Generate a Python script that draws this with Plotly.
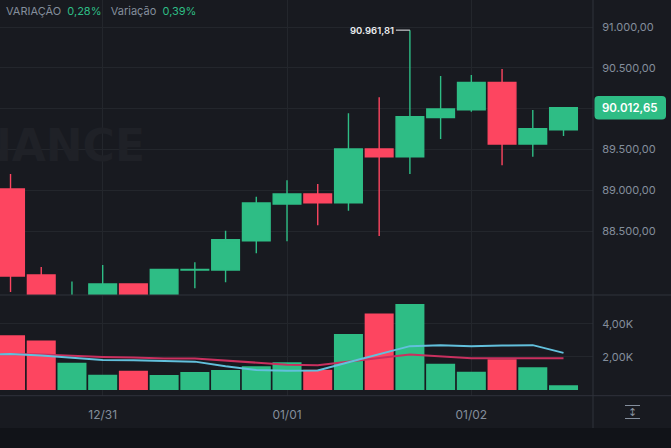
import pandas as pd
import plotly.graph_objects as go

# 4h candles, first one (12/30 08:00) sits just left of the visible range
times = pd.date_range("2025-12-30 08:00", periods=20, freq="4h")

opens = [89300, 89015, 87961, 87500, 87600, 87850, 87650, 88022, 88022, 88381, 88831, 88953, 88847, 89505, 89411, 89889, 89987, 90322, 89566, 89741]
highs = [89400, 89198, 88059, 87880, 88083, 87860, 88030, 88116, 88504, 88920, 89121, 89076, 89942, 90138, 90961.81, 90400, 90412, 90485, 89983, 90012.65]
lows = [88900, 87752, 87600, 87400, 87550, 87600, 87620, 87800, 87871, 88227, 88374, 88570, 88749, 88439, 89198, 89627, 89962, 89305, 89411, 89664]
closes = [89015, 87948, 87650, 87600, 87850, 87650, 88030, 88030, 88394, 88843, 88953, 88847, 89505, 89411, 89901, 89995, 90322, 89566, 89754, 90012.65]

volumes = [2000, 3305, 2999, 1652, 918, 1163, 900, 1083, 1205, 1428, 1673, 1224, 3387, 4630, 5202, 1591, 1102, 1856, 1367, 286]
vol_ma_blue = [2120, 2183, 2081, 1938, 1816, 1795, 1754, 1714, 1428, 1204, 1163, 1183, 1673, 2183, 2652, 2713, 2652, 2693, 2713, 2244]
vol_ma_red = [2120, 2183, 2142, 2060, 2000, 1958, 1897, 1897, 1775, 1632, 1530, 1489, 1734, 1938, 2142, 2020, 1918, 1918, 1938, 1918]

price_ticks = [88500, 89000, 89500, 90000, 90500, 91000]
price_labels = ["88.500,00", "89.000,00", "89.500,00", "", "90.500,00", "91.000,00"]
vol_ticks = [2000, 4000]
vol_labels = ["2,00K", "4,00K"]
date_ticks = ["2025-12-31", "2026-01-01", "2026-01-02"]
date_labels = ["12/31", "01/01", "01/02"]

BG = "#181a20"
GRID = "#23262c"
BORDER = "#2f323a"
GREEN = "#2ebd85"
RED = "#fd4560"
MUTED = "#848e9c"
FONT = "Inter"

W, H = 671, 448
AXIS_X = 593
PANE_Y = 295
VOL_Y = 395.7
FOOT_Y = 428


def px_x(x):
    return x / W


def px_y(y):
    return 1 - y / H


fig = go.Figure()

fig.add_trace(go.Candlestick(x=times, open=opens, high=highs, low=lows, close=closes,
                             increasing=dict(line=dict(color=GREEN, width=1.4), fillcolor=GREEN),
                             decreasing=dict(line=dict(color=RED, width=1.4), fillcolor=RED),
                             whiskerwidth=0, yaxis="y", hoverinfo="skip"))

bar_colors = [GREEN if c >= o else RED for o, c in zip(opens, closes)]
fig.add_trace(go.Bar(x=times, y=volumes, marker=dict(color=bar_colors, line=dict(width=0)),
                     width=4 * 3600 * 1000 * 0.945, yaxis="y2", hoverinfo="skip"))
fig.add_trace(go.Scatter(x=times, y=vol_ma_red, mode="lines", line=dict(color="#c9305f", width=2), yaxis="y2", hoverinfo="skip"))
fig.add_trace(go.Scatter(x=times, y=vol_ma_blue, mode="lines", line=dict(color="#62c0dc", width=2), yaxis="y2", hoverinfo="skip"))

day = pd.Timestamp(date_ticks[0])
x_start = day - pd.Timedelta(hours=13.37)
x_end = day + pd.Timedelta(hours=63.84)

fig.update_layout(
    width=W, height=H,
    margin=dict(l=0, r=0, t=0, b=0),
    paper_bgcolor=BG, plot_bgcolor=BG,
    showlegend=False,
    barmode="overlay",
    boxgap=0.1, boxgroupgap=0,
    font=dict(family=FONT, size=12, color=MUTED),
    xaxis=dict(domain=[0, px_x(AXIS_X)], anchor="y2", type="date", range=[x_start, x_end],
               tickvals=date_ticks, ticktext=date_labels, showgrid=True, gridcolor=GRID, gridwidth=1,
               ticks="outside", ticklen=8, tickcolor=BG, zeroline=False,
               rangeslider=dict(visible=False), showline=False, tickfont=dict(size=12, color=MUTED)),
    yaxis=dict(domain=[px_y(PANE_Y), 1], anchor="x", side="right", range=[87716, 91331],
               tickvals=price_ticks, ticktext=price_labels, gridcolor=GRID, gridwidth=1,
               ticks="outside", ticklen=6, tickcolor=BG, zeroline=False, tickfont=dict(size=11, color=MUTED)),
    yaxis2=dict(domain=[px_y(VOL_Y), px_y(PANE_Y)], anchor="x", side="right", range=[-350, 5750],
                tickvals=vol_ticks, ticktext=vol_labels, gridcolor=GRID, gridwidth=1,
                ticks="outside", ticklen=6, tickcolor=BG, zeroline=False, tickfont=dict(size=11, color=MUTED)),
)

# separators, footer strip and the rounded price tag
tag_l, tag_r, tag_t, tag_b = px_x(594.5), px_x(666), px_y(96), px_y(119.5)
rx, ry = 4 / W, 4 / H
tag_path = (f"M {tag_l + rx} {tag_t} L {tag_r - rx} {tag_t} Q {tag_r} {tag_t} {tag_r} {tag_t - ry} "
            f"L {tag_r} {tag_b + ry} Q {tag_r} {tag_b} {tag_r - rx} {tag_b} "
            f"L {tag_l + rx} {tag_b} Q {tag_l} {tag_b} {tag_l} {tag_b + ry} "
            f"L {tag_l} {tag_t - ry} Q {tag_l} {tag_t} {tag_l + rx} {tag_t} Z")

paper = dict(xref="paper", yref="paper")
fig.update_layout(shapes=[
    dict(type="line", x0=0, x1=1, y0=px_y(PANE_Y), y1=px_y(PANE_Y), line=dict(color=BORDER, width=1), **paper),
    dict(type="line", x0=0, x1=1, y0=px_y(VOL_Y), y1=px_y(VOL_Y), line=dict(color=BORDER, width=1), **paper),
    dict(type="line", x0=px_x(AXIS_X), x1=px_x(AXIS_X), y0=px_y(FOOT_Y), y1=1, line=dict(color=BORDER, width=1), **paper),
    dict(type="rect", x0=0, x1=1, y0=0, y1=px_y(FOOT_Y), fillcolor="#111318", line=dict(width=0), **paper),
    dict(type="path", path=tag_path, fillcolor=GREEN, line=dict(width=0), **paper),
    # auto-scale button
    dict(type="line", x0=px_x(625), x1=px_x(640), y0=px_y(405.5), y1=px_y(405.5), line=dict(color=MUTED, width=1), **paper),
    dict(type="line", x0=px_x(625), x1=px_x(640), y0=px_y(418.5), y1=px_y(418.5), line=dict(color=MUTED, width=1), **paper),
])

fig.update_layout(annotations=[
    dict(text="BINANCE", x=px_x(147), y=px_y(145), xanchor="right", yanchor="middle", showarrow=False,
         font=dict(family="DejaVu Sans", size=44, color="#1f2127", weight=700), **paper),
    dict(text=f"VARIAÇÃO  <span style='color:{GREEN}'>0,28%</span>   Variação  <span style='color:{GREEN}'>0,39%</span>",
         x=px_x(4), y=px_y(11), xanchor="left", yanchor="middle", showarrow=False,
         font=dict(family=FONT, size=11, color=MUTED), **paper),
    dict(text="90.012,65", x=px_x(630), y=px_y(108), xanchor="center", yanchor="middle", showarrow=False,
         font=dict(family=FONT, size=11.5, color="#ffffff", weight=600), **paper),
    dict(text="90.961,81", x=times[14], y=highs[14], xref="x", yref="y", xanchor="right", yanchor="middle",
         ax=-14, ay=0, axref="pixel", ayref="pixel", showarrow=True, arrowhead=0, arrowwidth=1, arrowcolor="#eaecef",
         font=dict(family=FONT, size=9.5, color="#eaecef", weight=600)),
    dict(text="↕", x=px_x(632.5), y=px_y(412), xanchor="center", yanchor="middle", showarrow=False,
         font=dict(family="DejaVu Sans", size=11, color=MUTED), **paper),
])

fig.write_html("out.html", config=dict(displayModeBar=False), post_script="document.body.style.margin='0';")
